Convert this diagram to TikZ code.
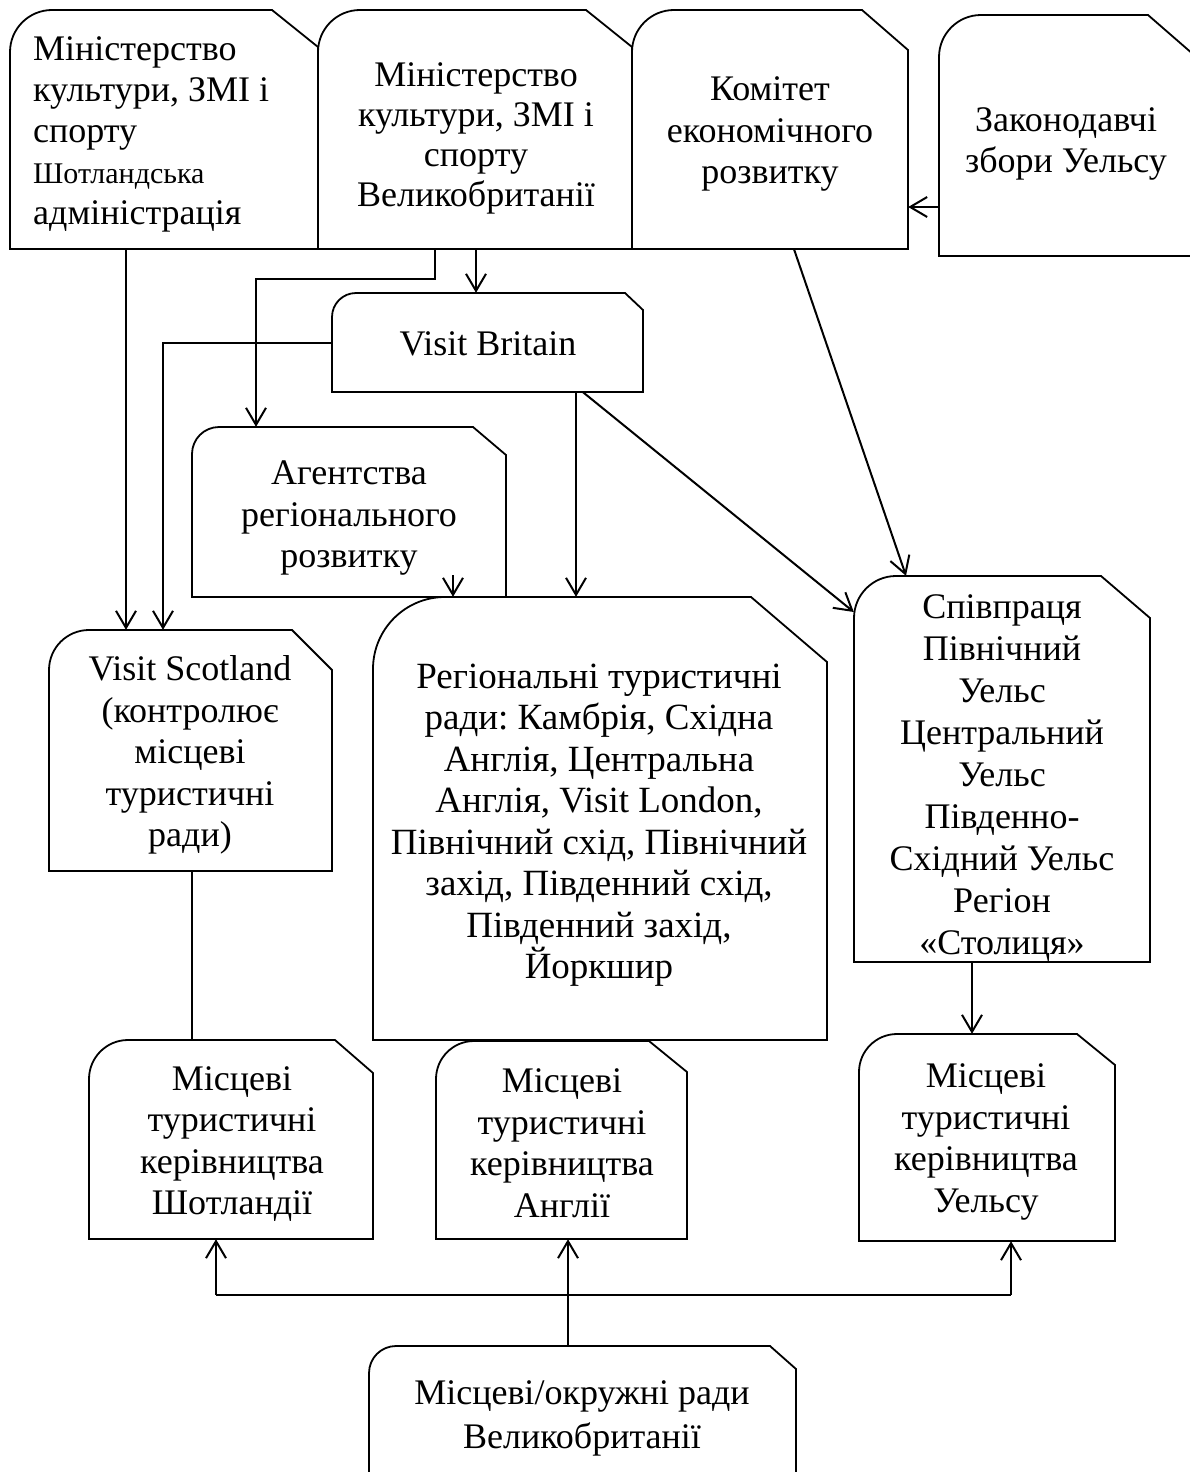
\documentclass[tikz,border=0pt]{standalone}
\usepackage{fontspec}
\setmainfont{Liberation Serif}
\frenchspacing
\usetikzlibrary{arrows.meta,fit,calc}
\newcommand{\cutbox}[8]{%
  \coordinate (#1-nw) at (#2,#3);
  \coordinate (#1-se) at (#4,#5);
  \node[boxnode, fit=(#1-nw)(#1-se)] (#1) {};
  \draw[boxline] (#2,{#3+#6}) .. controls (#2,{#3+0.4477*#6}) and ({#2+0.4477*#6},#3) .. ({#2+#6},#3) -- ({#4-#7},#3) -- (#4,{#3+#8}) -- (#4,#5) -- (#2,#5) -- cycle;
}
\begin{document}
\begin{tikzpicture}[x=1pt,y=-1pt,
  boxline/.style={draw=black, line width=1.8pt, line join=miter},
  boxnode/.style={inner sep=0pt, draw=none},
  txt/.style={inner sep=0pt, align=center, font=\fontsize{36}{41.5}\selectfont},
  conn/.style={draw=black, line width=2pt},
  arr/.style={conn, -{Straight Barb[length=17pt,width=20pt,line width=2pt]}}]
\useasboundingbox (0,0) rectangle (1189,1472);

% boxes: name, x1, y1, x2, y2, radius, cut-x, cut-y
\cutbox{A}{10}{10}{318}{249}{42}{46}{37}
\cutbox{B}{318}{10}{632}{249}{42}{46}{37}
\cutbox{C}{632}{10}{908}{249}{42}{46}{40}
\cutbox{D}{939}{15}{1194}{256}{42}{46}{40}
\cutbox{VB}{332}{293}{643}{392}{24}{18}{17}
\cutbox{Ag}{192}{427}{506}{597}{27}{33}{28}
\cutbox{Reg}{373}{597}{827}{1040}{72}{76}{65}
\cutbox{Coop}{854}{576}{1150}{962}{42}{49}{42}
\cutbox{VS}{49}{630}{332}{871}{40}{40}{40}
\cutbox{LS}{89}{1040}{373}{1239}{39}{38}{33}
\cutbox{LE}{436}{1041}{687}{1239}{38}{38}{31}
\cutbox{LW}{859}{1034}{1115}{1241}{38}{38}{31}
\cutbox{Bot}{369}{1346}{796}{1490}{27}{26}{23}

% texts
\node[txt, align=left, anchor=west, font=\fontsize{36}{41}\selectfont] (tA) at (33,134) {Міністерство\\культури, ЗМІ і\\спорту\\{\fontsize{30}{41}\selectfont Шотландська}\\адміністрація};
\node[txt, font=\fontsize{36}{40}\selectfont] (tB) at (476,138) {Міністерство\\культури, ЗМІ і\\спорту\\Великобританії};
\node[txt] (tC) at (770,134) {Комітет\\економічного\\розвитку};
\node[txt] (tD) at (1066,144) {Законодавчі\\збори Уельсу};
\node[txt] (tVB) at (488,344) {Visit Britain};
\node[txt] (tAg) at (349,518) {Агентства\\регіонального\\розвитку};
\node[txt] (tVS) at (190,755) {Visit Scotland\\(контролює\\місцеві\\туристичні\\ради)};
\node[txt, font=\fontsize{37}{41.5}\selectfont] (tReg) at (599,825) {Регіональні туристичні\\ради: Камбрія, Східна\\Англія, Центральна\\Англія, Visit London,\\Північний схід, Північний\\захід, Південний схід,\\Південний захід,\\Йоркшир};
\node[txt, font=\fontsize{36}{42}\selectfont] (tCoop) at (1002,778) {Співпраця\\Північний\\Уельс\\Центральний\\Уельс\\Південно-\\Східний Уельс\\Регіон\\«Столиця»};
\node[txt] (tLS) at (232,1144) {Місцеві\\туристичні\\керівництва\\Шотландії};
\node[txt] (tLE) at (562,1143) {Місцеві\\туристичні\\керівництва\\Англії};
\node[txt] (tLW) at (986,1142) {Місцеві\\туристичні\\керівництва\\Уельсу};
\node[txt, font=\fontsize{36}{44}\selectfont] (tBot) at (582,1418) {Місцеві/окружні ради\\Великобританії};

% helper coordinates
\coordinate (x126) at (126,0);
\coordinate (x163) at (163,0);
\coordinate (x192) at (192,0);
\coordinate (x256) at (256,0);
\coordinate (k1) at (435,279);
\coordinate (x453) at (453,0);
\coordinate (x476) at (476,0);
\coordinate (x568) at (568,0);
\coordinate (x576) at (576,0);
\coordinate (x583) at (583,0);
\coordinate (x794) at (794,0);
\coordinate (x906) at (906,0);
\coordinate (x972) at (972,0);
\coordinate (y207) at (0,207);
\coordinate (y612) at (0,612);
\coordinate (jL) at (216,1295);
\coordinate (jR) at (1011,1295);

% connectors
\draw[arr] (A.south -| x126) -- (VS.north -| x126);
\draw[arr] (VB.west) -| (VS.north -| x163);
\draw[arr] (B.south -| k1) -- (k1) -| (Ag.north -| x256);
\draw[arr] (B.south -| x476) -- (VB.north -| x476);
\draw[arr] (C.south -| x794) -- (Coop.north -| x906);
\draw[arr] (D.west |- y207) -- (C.east |- y207);
\draw[arr] (VB.south -| x576) -- (Reg.north -| x576);
\draw[arr] (VB.south -| x583) -- (Coop.west |- y612);
\draw[arr] ($(Ag.south -| x453)+(0,-22)$) -- (Reg.north -| x453);
\draw[conn] (VS.south -| x192) -- (LS.north -| x192);
\draw[arr] (Coop.south -| x972) -- (LW.north -| x972);
\draw[arr] (Bot.north -| x568) -- (LE.south -| x568);
\draw[conn] (jL) -- (jR);
\draw[arr] (jL) -- (LS.south -| jL);
\draw[arr] (jR) -- (LW.south -| jR);
\end{tikzpicture}
\end{document}
